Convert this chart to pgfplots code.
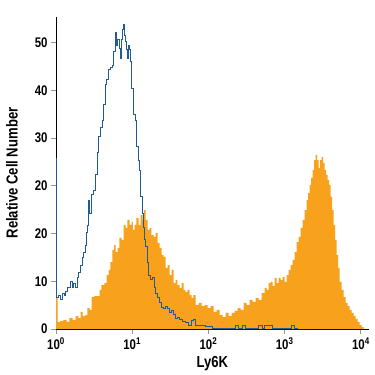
\documentclass[border=0pt]{standalone}
\usepackage{pgfplots}
\usepackage{pgfplotstable}
\pgfplotsset{compat=1.18}
\usepackage{fontspec}
\setmainfont[FakeStretch=0.82, BoldFeatures={FakeStretch=0.82}]{Liberation Sans}
\definecolor{historange}{RGB}{247,161,28}
\definecolor{histblue}{RGB}{30,92,145}
\definecolor{tickgray}{RGB}{150,150,150}

\pgfplotstableread{
lx y
0.000 6.7
0.020 1.5
0.059 1.7
0.098 1.9
0.138 1.5
0.177 2.3
0.217 1.9
0.256 2.7
0.295 2.3
0.322 3.6
0.348 2.7
0.387 2.9
0.413 4.4
0.440 4.0
0.466 6.7
0.505 6.9
0.545 6.9
0.571 8.2
0.597 9.2
0.636 9.6
0.663 11.3
0.689 12.4
0.715 14.0
0.741 16.6
0.761 17.6
0.781 16.1
0.807 17.0
0.833 19.1
0.860 18.7
0.886 21.8
0.912 21.2
0.938 22.9
0.965 21.8
0.991 22.4
1.010 20.8
1.030 21.8
1.056 23.3
1.083 21.8
1.109 23.9
1.135 22.9
1.155 24.9
1.175 22.9
1.201 20.8
1.227 21.2
1.253 19.7
1.280 19.3
1.306 20.1
1.332 18.0
1.358 17.0
1.385 15.5
1.411 15.1
1.437 12.8
1.463 13.4
1.490 11.3
1.516 12.4
1.542 9.6
1.568 10.3
1.594 9.2
1.621 8.6
1.647 9.6
1.673 8.2
1.699 7.8
1.726 8.2
1.752 7.1
1.778 6.5
1.804 7.1
1.831 5.0
1.870 5.5
1.909 4.8
1.949 5.0
1.988 4.4
2.028 4.8
2.067 3.6
2.106 4.0
2.146 2.9
2.185 2.5
2.224 3.4
2.264 2.7
2.303 3.4
2.343 3.8
2.382 4.4
2.421 4.0
2.461 5.5
2.500 5.0
2.539 6.1
2.579 5.7
2.618 6.5
2.657 6.1
2.697 7.5
2.736 8.6
2.762 8.2
2.789 9.6
2.815 9.9
2.841 9.0
2.867 10.7
2.894 9.6
2.920 10.7
2.946 10.3
2.972 10.9
2.999 9.9
3.025 11.3
3.051 12.4
3.077 13.4
3.104 14.5
3.130 16.1
3.156 18.2
3.182 19.3
3.209 21.2
3.235 22.9
3.261 24.9
3.287 27.0
3.307 28.5
3.327 30.2
3.346 31.7
3.366 33.3
3.386 35.4
3.406 36.5
3.425 35.4
3.445 33.8
3.465 35.4
3.484 36.1
3.504 34.8
3.524 33.3
3.543 32.3
3.563 31.2
3.583 30.2
3.602 27.7
3.622 24.9
3.642 21.8
3.661 18.7
3.681 15.5
3.701 12.8
3.720 9.9
3.747 8.2
3.773 6.7
3.799 5.5
3.825 4.8
3.852 4.0
3.878 3.4
3.904 2.7
3.930 2.1
3.957 1.5
3.983 0.8
4.009 0.4
4.035 0.0
}\orangedata

\pgfplotstableread{
lx y
0.000 35.8
0.013 6.7
0.037 7.1
0.059 6.1
0.081 7.5
0.105 7.1
0.125 7.8
0.147 8.8
0.168 8.6
0.190 9.9
0.213 8.8
0.234 9.6
0.256 8.8
0.278 10.7
0.299 11.9
0.322 13.4
0.344 14.9
0.365 16.1
0.387 17.6
0.400 20.3
0.413 21.8
0.427 27.0
0.440 24.3
0.453 24.3
0.472 28.1
0.492 29.1
0.518 32.3
0.545 36.9
0.564 40.3
0.584 42.3
0.604 43.8
0.623 47.0
0.650 51.2
0.669 52.2
0.689 54.3
0.715 54.9
0.735 55.3
0.755 58.1
0.781 62.1
0.794 59.5
0.807 60.6
0.827 58.9
0.846 56.8
0.860 60.6
0.873 62.7
0.886 63.9
0.899 61.6
0.912 60.2
0.925 58.5
0.938 56.8
0.951 59.5
0.965 58.5
0.978 56.0
0.997 50.5
1.017 44.9
1.037 43.8
1.056 38.2
1.076 35.4
1.089 33.3
1.109 27.7
1.129 24.3
1.148 21.2
1.161 18.7
1.175 17.2
1.194 14.0
1.214 11.3
1.240 10.3
1.266 10.7
1.286 8.6
1.306 7.5
1.332 6.5
1.358 5.5
1.385 4.6
1.411 4.4
1.437 4.8
1.463 4.4
1.490 3.4
1.516 3.8
1.542 3.1
1.568 2.3
1.594 2.5
1.621 1.9
1.660 1.5
1.699 1.3
1.739 0.8
1.778 1.7
1.804 1.9
1.831 0.8
1.896 0.8
1.962 0.6
2.028 0.6
2.054 0.2
2.356 0.8
2.395 0.2
2.447 0.8
2.487 0.2
2.657 0.8
2.710 0.2
2.736 0.8
2.789 0.8
2.841 0.2
3.091 0.8
3.130 0.2
3.169 0.2
}\bluedata

\begin{document}
\begin{tikzpicture}
\begin{axis}[
  scale only axis,
  width=312.5bp, height=312bp,
  xmode=log, log basis x=10,
  xmin=1, xmax=12589,
  ymin=0, ymax=65.4,
  axis x line=bottom, axis y line=left,
  axis line style={-, black, line width=0.8pt},
  xtick={1,10,100,1000,10000},
  xticklabels={10\textsuperscript{0},10\textsuperscript{1},10\textsuperscript{2},10\textsuperscript{3},10\textsuperscript{4}},
  ytick={0,10,20,30,40,50,60},
  yticklabels={0,10,20,20,30,40,50},
  tick style={tickgray, line width=0.8pt},
  major tick length=5bp, minor tick length=5bp,
  tick align=outside,
  xtick pos=bottom, ytick pos=left,
  ticklabel style={font=\fontsize{14}{16}\selectfont\bfseries, black},
  xlabel={Ly6K}, ylabel={Relative Cell Number},
  label style={font=\fontsize{16}{18}\selectfont\bfseries, black},
  xlabel style={at={(rel axis cs:0.5,0)}, anchor=center, yshift=-35bp},
  ylabel style={at={(rel axis cs:0,0.5)}, anchor=center, yshift=44bp},
  clip=false,
]
\addplot[const plot, fill=historange, draw=none] table[x expr={10^\thisrow{lx}}, y=y] {\orangedata} \closedcycle;
\addplot[const plot, histblue, line width=1pt] table[x expr={10^\thisrow{lx}}, y=y] {\bluedata};
\coordinate (bl) at (rel axis cs:0,0);
\end{axis}
\pgfresetboundingbox
\path (bl) ++(-56bp,-46bp) rectangle ++(375bp,375bp);
\end{tikzpicture}
\end{document}
